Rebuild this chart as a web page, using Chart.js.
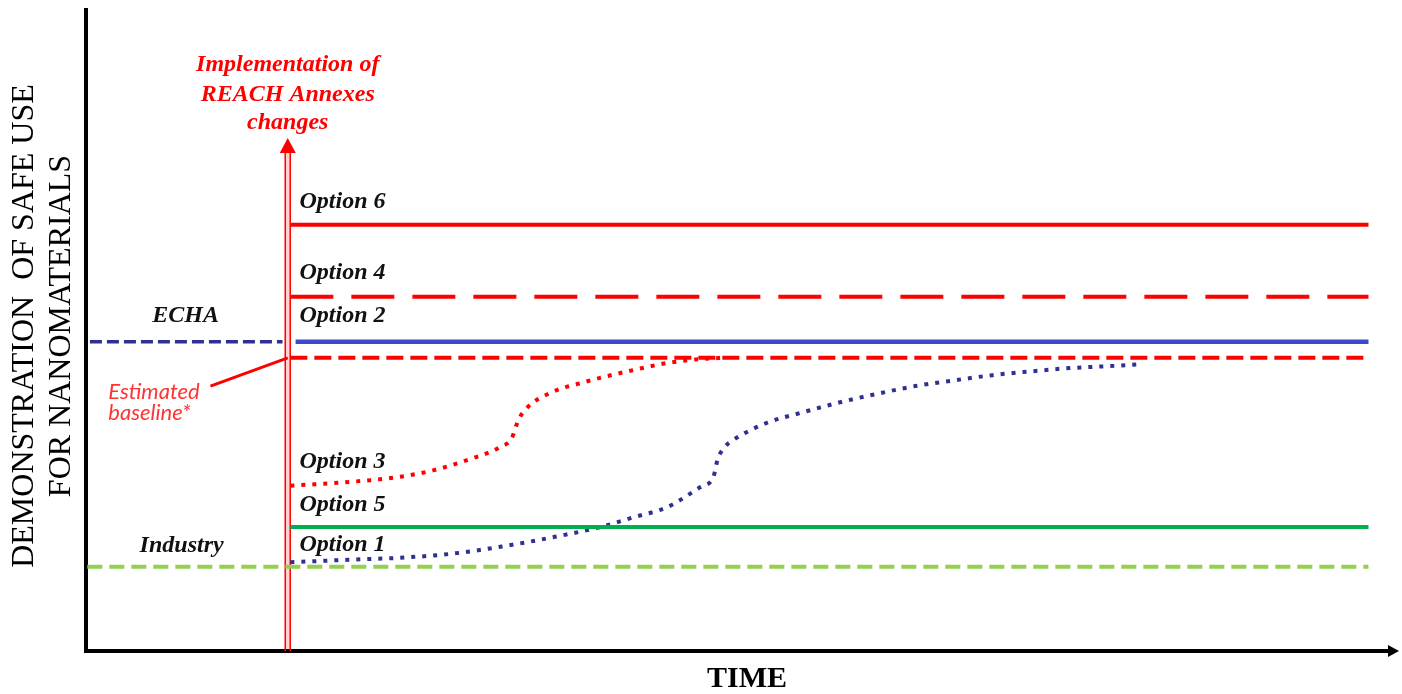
<!DOCTYPE html>
<html>
<head>
<meta charset="utf-8">
<script src="https://cdn.jsdelivr.net/npm/chart.js"></script>
<style>
  body { margin: 0; background: #fff; }
  canvas { display: block; }
</style>
</head>
<body>
<canvas id="chart" width="1402" height="694"></canvas>
<script>
// time runs 0..100 along x, safe-use level 0..100 along y (arbitrary units)
const arrowX = 15.4;
const arrowTop = 79.8;
const arrowHeadBase = 77.6;

const optionStartX = 15.6;
const option2StartX = 16.0;
const optionEndX = 97.9;
const echaX = [0.3, 15.0];
const industryX = [0.1, 97.9];

const option6Y = 66.3;
const option4Y = 55.1;
const echaY = 48.1;
const baselineY = 45.6;
const option5Y = 19.3;
const industryY = 13.1;

// Option 3: red dotted curve rising to the estimated baseline
const option3X = [15.6, 20.2, 24.0, 26.5, 29.1, 31.6, 32.5, 33.0, 33.7, 35.4, 38.0, 41.8, 44.4, 46.9, 48.8];
const option3Y = [25.7, 26.3, 27.1, 28.1, 29.7, 31.7, 33.1, 35.9, 37.9, 40.1, 41.8, 43.7, 44.8, 45.4, 45.6];

// Option 1: dark blue dotted curve, slower rise
const option1X = [15.6, 20.2, 24.0, 27.8, 31.6, 35.4, 39.3, 41.8, 44.4, 46.9, 47.9, 48.2, 48.7, 49.4, 52.0,
                  54.5, 57.4, 60.4, 63.3, 66.3, 69.2, 72.2, 75.1, 78.1, 80.7];
const option1Y = [13.8, 14.2, 14.5, 15.1, 16.2, 17.6, 19.3, 20.8, 22.4, 25.5, 27.1, 29.7, 31.6, 32.8, 35.5,
                  37.0, 38.6, 40.0, 41.2, 42.1, 42.9, 43.5, 44.0, 44.3, 44.6];

// pointer from the "Estimated baseline*" note to the baseline
const leaderX = [9.5, 15.4];
const leaderY = [41.2, 45.6];

const optionLabels = ['Option 6', 'Option 4', 'Option 2', 'Option 3', 'Option 5', 'Option 1'];
const optionLabelY = [69.8, 58.8, 52.1, 29.4, 22.7, 16.5];
const optionLabelX = 16.3;
const actorLabels = ['ECHA', 'Industry'];
const actorLabelX = [7.6, 7.3];
const actorLabelY = [52.1, 16.3];
const noteLines = ['Estimated', 'baseline*'];
const noteX = 1.7;
const noteY = [40.3, 37.0];
const eventLines = ['Implementation of', 'REACH Annexes', 'changes'];
const eventY = [91.1, 86.5, 82.1];
const yTitle = ['DEMONSTRATION  OF SAFE USE', 'FOR NANOMATERIALS'];
const xTitle = 'TIME';

const RED = '#ff0000';
const NAVY = '#2e3192';
const BLUE = '#3f48cc';
const GREEN = '#00b050';
const LIGHT_GREEN = '#92d050';

function pts(xs, ys) {
    return xs.map((x, i) => ({ x: x, y: ys[i] }));
}
function flat(xs, y) {
    return xs.map(x => ({ x: x, y: y }));
}

const sketchPlugin = {
    id: 'sketch',
    beforeDatasetsDraw(chart) {
        const ctx = chart.ctx;
        const xs = chart.scales.x, ys = chart.scales.y;
        const a = chart.chartArea;
        ctx.save();
        // axes
        ctx.strokeStyle = '#000';
        ctx.lineWidth = 4;
        ctx.beginPath();
        ctx.moveTo(a.left, a.top);
        ctx.lineTo(a.left, a.bottom);
        ctx.lineTo(a.right - 6, a.bottom);
        ctx.stroke();
        ctx.fillStyle = '#000';
        ctx.beginPath();
        ctx.moveTo(a.right + 3, a.bottom);
        ctx.lineTo(a.right - 8, a.bottom - 6);
        ctx.lineTo(a.right - 8, a.bottom + 6);
        ctx.closePath();
        ctx.fill();

        // red event arrow (outlined shaft)
        const ax = xs.getPixelForValue(arrowX);
        const tip = ys.getPixelForValue(arrowTop);
        const base = ys.getPixelForValue(arrowHeadBase);
        ctx.fillStyle = 'rgba(255,0,0,0.18)';
        ctx.fillRect(ax - 2.5, base, 5, a.bottom - base);
        ctx.strokeStyle = RED;
        ctx.lineWidth = 1.5;
        ctx.beginPath();
        ctx.moveTo(ax - 2.5, base); ctx.lineTo(ax - 2.5, a.bottom);
        ctx.moveTo(ax + 2.5, base); ctx.lineTo(ax + 2.5, a.bottom);
        ctx.stroke();
        ctx.fillStyle = RED;
        ctx.beginPath();
        ctx.moveTo(ax, tip);
        ctx.lineTo(ax - 8, base + 1);
        ctx.lineTo(ax + 8, base + 1);
        ctx.closePath();
        ctx.fill();
        ctx.restore();
    },
    afterDatasetsDraw(chart) {
        const ctx = chart.ctx;
        const xs = chart.scales.x, ys = chart.scales.y;
        const a = chart.chartArea;
        ctx.save();
        ctx.textBaseline = 'middle';

        ctx.fillStyle = '#111';
        ctx.font = 'bold italic 24px "Liberation Serif"';
        ctx.textAlign = 'left';
        optionLabels.forEach((t, i) => {
            ctx.fillText(t, xs.getPixelForValue(optionLabelX), ys.getPixelForValue(optionLabelY[i]));
        });
        ctx.textAlign = 'center';
        actorLabels.forEach((t, i) => {
            ctx.fillText(t, xs.getPixelForValue(actorLabelX[i]), ys.getPixelForValue(actorLabelY[i]));
        });

        ctx.fillStyle = RED;
        ctx.font = 'bold italic 24px "Liberation Serif"';
        eventLines.forEach((t, i) => {
            ctx.fillText(t, xs.getPixelForValue(arrowX), ys.getPixelForValue(eventY[i]));
        });

        ctx.fillStyle = '#ff3333';
        ctx.font = 'italic 22px Lato';
        ctx.textAlign = 'left';
        noteLines.forEach((t, i) => {
            ctx.fillText(t, xs.getPixelForValue(noteX), ys.getPixelForValue(noteY[i]));
        });

        // axis titles
        ctx.fillStyle = '#000';
        ctx.font = '32px "Liberation Serif"';
        ctx.textAlign = 'center';
        const midY = 326;
        [25, 62].forEach((cx, i) => {
            ctx.save();
            ctx.translate(cx, midY);
            ctx.rotate(-Math.PI / 2);
            ctx.fillText(yTitle[i], 0, 0);
            ctx.restore();
        });
        ctx.font = 'bold 30px "Liberation Serif"';
        ctx.fillText(xTitle, (xs.getPixelForValue(0) + a.right) / 2 + 6, a.bottom + 28);
        ctx.restore();
    }
};

new Chart(document.getElementById('chart'), {
    type: 'line',
    data: {
        datasets: [
            { data: flat(echaX, echaY), borderColor: NAVY, borderWidth: 3.5, borderDash: [12, 5] },
            { data: flat(industryX, industryY), borderColor: LIGHT_GREEN, borderWidth: 4, borderDash: [15, 7] },
            { data: flat([optionStartX, optionEndX], option6Y), borderColor: RED, borderWidth: 4 },
            { data: flat([optionStartX, optionEndX], option4Y), borderColor: RED, borderWidth: 4, borderDash: [43, 18] },
            { data: flat([option2StartX, optionEndX], echaY), borderColor: BLUE, borderWidth: 4.5 },
            { data: flat([optionStartX, optionEndX], baselineY), borderColor: RED, borderWidth: 4, borderDash: [17, 7] },
            { data: flat([optionStartX, optionEndX], option5Y), borderColor: GREEN, borderWidth: 4 },
            { data: pts(option3X, option3Y), borderColor: RED, borderWidth: 4, borderDash: [4, 7], cubicInterpolationMode: 'monotone' },
            { data: pts(option1X, option1Y), borderColor: NAVY, borderWidth: 4, borderDash: [4, 7], cubicInterpolationMode: 'monotone' },
            { data: pts(leaderX, leaderY), borderColor: RED, borderWidth: 3 }
        ]
    },
    options: {
        responsive: false,
        animation: false,
        layout: { padding: { left: 86, right: 6, top: 8, bottom: 43 } },
        elements: { point: { radius: 0 }, line: { fill: false, borderCapStyle: 'butt' } },
        plugins: { legend: { display: false }, tooltip: { enabled: false } },
        scales: {
            x: { type: 'linear', display: false, min: 0, max: 100 },
            y: { type: 'linear', display: false, min: 0, max: 100 }
        }
    },
    plugins: [sketchPlugin]
});
</script>
</body>
</html>
